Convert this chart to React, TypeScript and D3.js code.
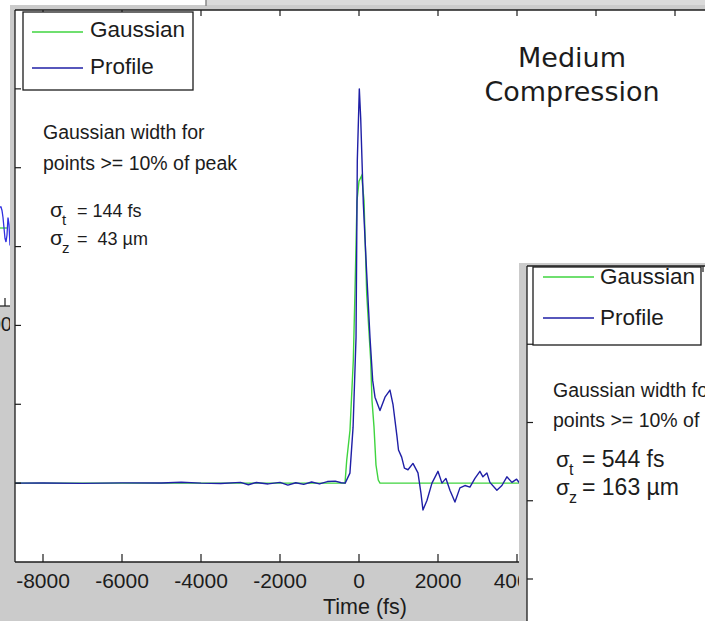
import React from "react";
import * as d3 from "d3";

// Measured bunch profile (time in fs, amplitude in arbitrary units)
const profileTime = [
  -8700, -8000, -7000, -6000, -5000, -4500, -4000, -3500, -3000, -2800, -2600, -2300,
  -2000, -1800, -1600, -1400, -1200, -1000, -800, -600, -450, -350, -230, -150, -75,
  -43, 8, 43, 110, 195, 278, 347, 405, 531, 658, 784, 860, 960, 1000, 1080, 1150,
  1240, 1366, 1493, 1569, 1619, 1720, 1847, 1999, 2100, 2201, 2302, 2429, 2555, 2682,
  2808, 2935, 3061, 3137, 3238, 3314, 3491, 3618, 3744, 3871, 3990, 4100, 4250,
];
const profileValue = [
  0, 0.002, -0.003, 0.004, 0.002, 0.012, 0, -0.005, 0.01, -0.02, 0.008, -0.01,
  0.01, -0.025, 0.005, -0.015, 0.015, -0.01, 0.02, 0.025, 0.005, 0, 0.127, 0.71, 1.85,
  4.09, 5.0, 4.63, 3.54, 2.66, 1.85, 1.3, 1.09, 0.92, 1.09, 1.18, 1.0, 0.6, 0.42, 0.33, 0.19,
  0.17, 0.25, 0.13, -0.13, -0.34, -0.22, 0, 0.15, 0, 0.06, -0.09, -0.24, -0.06, -0.03,
  -0.05, 0.06, 0.15, 0.08, 0.13, 0.01, -0.09, -0.03, 0.08, 0.01, 0.05, -0.02, 0.03,
];

// Gaussian fit to the points above 10% of the peak
const gaussTime = [
  -8700, -354, -311, -228, -144, -101, -51, 0, 68, 127, 195, 296, 329, 380, 430, 488, 531, 4250,
];
const gaussValue = [
  0, 0, 0.29, 0.67, 1.56, 2.44, 3.58, 3.83, 3.9, 3.58, 2.4, 1.56, 1.05, 0.71, 0.23, 0.04, 0, 0,
];

// Edge of the neighbouring plot on the left
const sideX = [0, 1, 2, 3, 4, 5, 6, 7, 8, 9, 10];
const sideProfile = [0.3, 0.3, 0.25, 0.15, 0.0, -0.15, -0.2, -0.1, 0.15, 0.05, -0.25];
const sideGauss = [0.0, 0.0, 0.0, 0.0, 0.0, 0.0, 0.0, 0.0];

const xTicks = [-8000, -6000, -4000, -2000, 0, 2000, 4000, 6000, 8000];
const xTickLabels = ["-8000", "-6000", "-4000", "-2000", "0", "2000", "4000", "", ""];
const yTicks = [0, 1, 2, 3, 4, 5];
const insetYTicks = [0, 1, 2, 3];
const insetXTicks = [-8000];

const legendNames = ["Gaussian", "Profile"];
const mainNote = ["Gaussian width for", "points >= 10% of peak"];
const mainSigma = [
  { sym: "t", text: "= 144 fs" },
  { sym: "z", text: "=  43 \u00b5m" },
];
const insetSigma = [
  { sym: "t", text: "= 544 fs" },
  { sym: "z", text: "= 163 \u00b5m" },
];
const title = ["Medium", "Compression"];

const GREEN = "#3fd43f";
const BLUE = "#1f1fa6";
const PANEL = "#cbcbcb";
const INK = "#1c1c1c";
const FONT = "'Liberation Sans', Arial, Helvetica, sans-serif";

const W = 705;
const H = 621;

export default function App() {
  // main axes geometry
  const left = 15;
  const top = 10;
  const bottom = 562;
  const x = d3.scaleLinear().domain([-8000, 4000]).range([43, 517]);
  const y = d3.scaleLinear().domain([-1, 6]).range([bottom, top]);

  const line = d3
    .line<[number, number]>()
    .x((d) => x(d[0]))
    .y((d) => y(d[1]));
  const profilePath = line(profileTime.map((t, i) => [t, profileValue[i]]))!;
  const gaussPath = line(gaussTime.map((t, i) => [t, gaussValue[i]]))!;

  // inset axes geometry
  const iLeft = 527;
  const iTop = 266;
  const iy = d3.scaleLinear().domain([0, 4]).range([579, 266]);
  const ix = d3.scaleLinear().domain([-8700, -8000]).range([iLeft, 703]);

  // neighbouring plot fragment
  const sx = d3.scaleLinear().domain([0, 10]).range([0, 10]);
  const sy = d3.scaleLinear().domain([0, 1]).range([228, 158]);
  const sideLine = d3
    .line<number>()
    .x((_, i) => sx(sideX[i]))
    .y((d) => sy(d));

  return (
    <svg
      width={W}
      height={H}
      viewBox={`0 0 ${W} ${H}`}
      style={{ position: "absolute", left: 0, top: 0, background: "#fff" }}
      fontFamily={FONT}
    >
      <defs>
        <clipPath id="mainClip">
          <rect x={left} y={top} width={W - left} height={bottom - top} />
        </clipPath>
        <clipPath id="sideClip">
          <rect x={0} y={0} width={10} height={H} />
        </clipPath>
      </defs>

      {/* neighbouring figure on the left */}
      <rect x={0} y={0} width={10} height={H} fill="#fff" />
      <rect x={0} y={306} width={10} height={H - 306} fill={PANEL} />
      <g clipPath="url(#sideClip)">
        <path d={sideLine(sideGauss)!} fill="none" stroke={GREEN} strokeWidth={1.3} />
        <path d={sideLine(sideProfile)!} fill="none" stroke="#3030e0" strokeWidth={1.3} />
        <text x={12} y={331} textAnchor="end" fontSize={20} fill={INK}>2000</text>
      </g>
      <line x1={0} x2={10} y1={306} y2={306} stroke={INK} strokeWidth={1.2} />
      <line x1={5} x2={5} y1={306} y2={298} stroke={INK} strokeWidth={1.2} />

      {/* main figure panel */}
      <rect x={206} y={0} width={W - 206} height={5} fill="#dadada" />
      <rect x={10} y={5} width={W - 10} height={H - 5} fill={PANEL} />
      <line x1={206} x2={206} y1={0} y2={6} stroke="#888" strokeWidth={1.5} />
      <rect x={left} y={top} width={W - left} height={bottom - top} fill="#fff" />

      <g clipPath="url(#mainClip)">
        <path d={gaussPath} fill="none" stroke={GREEN} strokeWidth={1.4} />
        <path d={profilePath} fill="none" stroke={BLUE} strokeWidth={1.4} strokeLinejoin="round" />
      </g>

      {/* axes frame and ticks */}
      <line x1={left} x2={W} y1={top} y2={top} stroke={INK} strokeWidth={1.3} />
      <line x1={left} x2={left} y1={top} y2={bottom} stroke={INK} strokeWidth={1.3} />
      <line x1={left} x2={W} y1={bottom} y2={bottom} stroke={INK} strokeWidth={1.3} />
      {xTicks.map((t) => (
        <g key={`xt${t}`}>
          <line x1={x(t)} x2={x(t)} y1={bottom} y2={bottom - 8} stroke={INK} strokeWidth={1.2} />
          <line x1={x(t)} x2={x(t)} y1={top} y2={top + 6} stroke={INK} strokeWidth={1.2} />
        </g>
      ))}
      {yTicks.map((v) => (
        <line key={`yt${v}`} x1={left} x2={left + 6} y1={y(v)} y2={y(v)} stroke={INK} strokeWidth={1.2} />
      ))}
      {xTicks.map((t, i) => (
        <text
          key={`xl${t}`}
          x={x(t)}
          y={588}
          textAnchor="middle"
          fontSize={21}
          fill={INK}
        >
          {xTickLabels[i]}
        </text>
      ))}
      <text x={365} y={614} textAnchor="middle" fontSize={21.5} fill={INK}>
        Time (fs)
      </text>

      {/* legend */}
      <rect x={23} y={12} width={170} height={78} fill="#fff" stroke={INK} strokeWidth={1.3} />
      <line x1={32} x2={83} y1={32} y2={32} stroke={GREEN} strokeWidth={1.4} />
      <line x1={32} x2={83} y1={68} y2={68} stroke={BLUE} strokeWidth={1.4} />
      <text x={90} y={37} fontSize={22.5} fill={INK}>{legendNames[0]}</text>
      <text x={90} y={74} fontSize={22.5} fill={INK}>{legendNames[1]}</text>

      {/* width annotation */}
      <text x={43} y={139} fontSize={19.5} fill={INK}>{mainNote[0]}</text>
      <text x={43} y={170} fontSize={19.5} fill={INK}>{mainNote[1]}</text>
      {mainSigma.map((s, i) => (
        <g key={`ms${i}`} fill={INK}>
          <text x={50} y={217 + i * 28} fontSize={21}>{"\u03c3"}</text>
          <text x={62} y={225 + i * 28} fontSize={15}>{s.sym}</text>
          <text x={77} y={217 + i * 28} fontSize={18} style={{ whiteSpace: "pre" }}>{s.text}</text>
        </g>
      ))}

      {/* title */}
      <text x={572} y={67} textAnchor="middle" fontSize={27} fontFamily="'DejaVu Sans', Verdana, sans-serif" fill={INK}>
        {title[0]}
      </text>
      <text x={572} y={101} textAnchor="middle" fontSize={27} fontFamily="'DejaVu Sans', Verdana, sans-serif" fill={INK}>
        {title[1]}
      </text>

      {/* inset figure */}
      <rect x={519} y={263} width={W - 519} height={H - 263} fill={PANEL} />
      <rect x={iLeft} y={iTop} width={W - iLeft} height={H - iTop} fill="#fff" />
      <line x1={iLeft} x2={W} y1={iTop} y2={iTop} stroke={INK} strokeWidth={1.3} />
      <line x1={iLeft} x2={iLeft} y1={iTop} y2={H} stroke={INK} strokeWidth={1.3} />
      {insetYTicks.map((v) => (
        <line key={`iy${v}`} x1={iLeft} x2={iLeft + 6} y1={iy(v)} y2={iy(v)} stroke={INK} strokeWidth={1.2} />
      ))}
      {insetXTicks.map((t) => (
        <line key={`ix${t}`} x1={ix(t)} x2={ix(t)} y1={iTop} y2={iTop + 6} stroke={INK} strokeWidth={1.2} />
      ))}
      <rect x={533} y={267} width={168} height={78} fill="#fff" stroke={INK} strokeWidth={1.3} />
      <line x1={543} x2={594} y1={277} y2={277} stroke={GREEN} strokeWidth={1.4} />
      <line x1={543} x2={594} y1={318} y2={318} stroke={BLUE} strokeWidth={1.4} />
      <text x={600} y={284} fontSize={22.5} fill={INK}>{legendNames[0]}</text>
      <text x={600} y={325} fontSize={22.5} fill={INK}>{legendNames[1]}</text>
      <text x={553} y={397} fontSize={19.5} fill={INK}>{mainNote[0]}</text>
      <text x={553} y={427} fontSize={19.5} fill={INK}>{mainNote[1]}</text>
      {insetSigma.map((s, i) => (
        <g key={`is${i}`} fill={INK}>
          <text x={556} y={467 + i * 28} fontSize={22}>{"\u03c3"}</text>
          <text x={569} y={475 + i * 28} fontSize={16}>{s.sym}</text>
          <text x={582} y={467 + i * 28} fontSize={23} style={{ whiteSpace: "pre" }}>{s.text}</text>
        </g>
      ))}
    </svg>
  );
}
